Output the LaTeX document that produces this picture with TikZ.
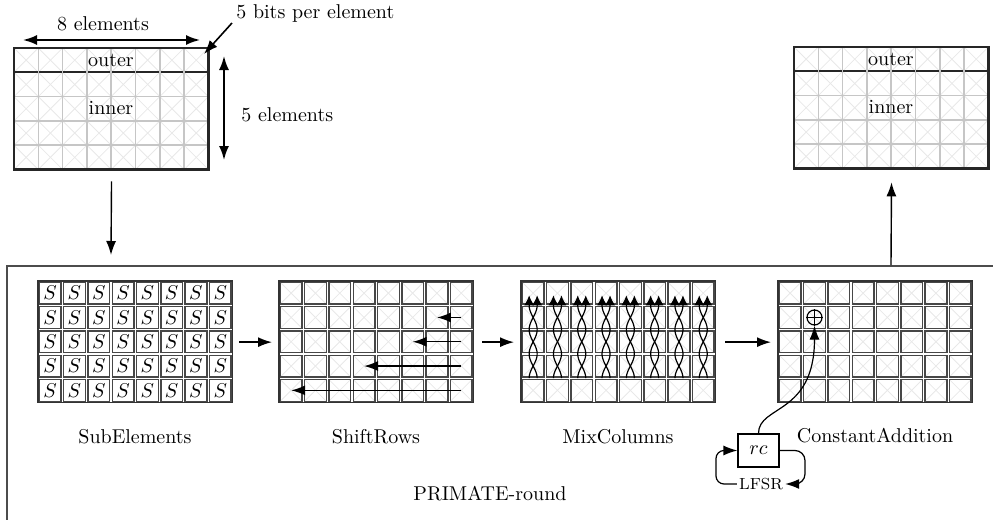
\documentclass[tikz,border=0pt]{standalone}
\usetikzlibrary{arrows.meta,calc}
\def\cs{24.3}
\newcommand\stategrid[2]{%
  \foreach \i in {0,...,7}{\foreach \j in {0,...,4}{%
    \draw[xl] (#1+\i*\cs,#2+\j*\cs) -- ++(\cs,\cs);
    \draw[xl] (#1+\i*\cs+\cs,#2+\j*\cs) -- ++(-\cs,\cs);}}
  \draw[black!85,line width=1pt] (#1,#2+\cs) -- ++(8*\cs,0);
  \foreach \i in {1,...,7} \draw[gl] (#1+\i*\cs,#2) -- ++(0,5*\cs);
  \foreach \j in {2,...,4} \draw[gl] (#1,#2+\j*\cs) -- ++(8*\cs,0);
  \draw[black!85,line width=1.2pt] (#1,#2) rectangle ++(8*\cs,5*\cs);
}
\newcommand\cellgrid[3]{% x, y, draw crosses (1/0)
  \foreach \i in {0,...,7}{\foreach \j in {0,...,4}{%
    \ifnum#3=1
    \draw[xl] (#1+\i*\cs+2,#2+\j*\cs+2) -- ++(\cs-4,\cs-4);
    \draw[xl] (#1+\i*\cs+\cs-2,#2+\j*\cs+2) -- ++(-\cs+4,\cs-4);
    \fi
    \draw[cl] (#1+\i*\cs+1.3,#2+\j*\cs+1.3) rectangle ++(\cs-2.6,\cs-2.6);}}
  \draw[black!80,line width=0.8pt] (#1,#2) rectangle ++(8*\cs,5*\cs);
}
\begin{document}
\begin{tikzpicture}[x=0.5pt,y=-0.5pt,
  gridbox/.style={draw=none,minimum width=97.2pt,minimum height=60.75pt,inner sep=0pt,anchor=north west},
  xl/.style={gray!18,line width=0.4pt},
  gl/.style={gray!45,line width=0.8pt},
  cl/.style={black!72,line width=0.7pt},
  arr/.style={-{Latex[length=7pt,width=5pt]},line width=0.7pt},
  darr/.style={{Latex[length=7pt,width=5pt]}-{Latex[length=7pt,width=5pt]},line width=0.9pt},
  mixarr/.style={-{Latex[length=5pt,width=5pt]},line width=0.6pt},
  lbl/.style={font=\normalsize,inner sep=1pt}]
\useasboundingbox (0,0) rectangle (993,520);

% frame
\draw[black!70,line width=0.8pt] (7,520) -- (7,266) -- (993,266);

% grid holder nodes
\node[gridbox] (s1) at (14,48) {};
\node[gridbox] (s2) at (794,47) {};
\node[gridbox] (g1) at (38,281) {};
\node[gridbox] (g2) at (279,281) {};
\node[gridbox] (g3) at (521,281) {};
\node[gridbox] (g4) at (778,281) {};

% top states
\stategrid{14}{48}
\stategrid{794}{47}
\node[lbl] (o1) at (111,60.5) {outer};
\node[lbl] (i1) at (111,108.5) {inner};
\node[lbl] (o2) at (891,59.5) {outer};
\node[lbl] (i2) at (891,107.5) {inner};

% annotations
\coordinate (e8a) at (23,40);
\coordinate (e8b) at (200,40);
\draw[darr] (e8a) -- (e8b);
\node[lbl] (t8) at (103,24) {8 elements};
\coordinate (e5a) at (224,56);
\coordinate (e5b) at (224,160);
\draw[darr] (e5a) -- (e5b);
\node[lbl,anchor=west] (t5) at (239,115) {5 elements};
\node[lbl,anchor=west] (tb) at (234,13) {5 bits per element};
\coordinate (bA) at (232,23);
\coordinate (bB) at (204,54);
\draw[-{Latex[length=7pt,width=5pt]},line width=0.8pt] (bA) -- (bB);

% in/out arrows
\coordinate (d1) at (111,255);
\draw[arr,shorten <=5.5pt] (s1.south) -- (d1);
\coordinate (u1) at (891,265);
\draw[arr,shorten >=6.5pt] (u1) -- (s2.south);

% bottom grids
\cellgrid{38}{281}{0}
\cellgrid{279}{281}{1}
\cellgrid{521}{281}{1}
\cellgrid{778}{281}{1}

% S boxes
\foreach \i in {0,...,7}{\foreach \j in {0,...,4}{%
  \node[inner sep=0pt] (S-\i-\j) at (38+\i*\cs+\cs/2,281+\j*\cs+\cs/2) {$S$};}}

% ShiftRows arrows
\foreach \r/\s in {1/1,2/2,3/4,4/7}{%
  \coordinate (sr\r a) at (279+7.5*\cs,281+\r*\cs+\cs/2);
  \coordinate (sr\r b) at (279+7.5*\cs-\s*\cs,281+\r*\cs+\cs/2);
  \draw[arr] (sr\r a) -- (sr\r b);}

% MixColumns
\foreach \i in {0,...,7}{%
  \pgfmathsetmacro\cx{521+(\i+0.5)*\cs}
  \draw[mixarr] plot[domain=0:3,samples=61,smooth] ({\cx+4*cos(180*\x)},{281+4*\cs-\x*\cs}) -- ++(0,-10);
  \draw[mixarr] plot[domain=0:3,samples=61,smooth] ({\cx-4*cos(180*\x)},{281+4*\cs-\x*\cs}) -- ++(0,-10);}

% connectors between stages
\draw[arr,shorten <=3pt,shorten >=3.5pt] (g1.east) -- (g2.west);
\draw[arr,shorten <=4pt,shorten >=3.5pt] (g2.east) -- (g3.west);
\draw[arr,shorten <=4.5pt,shorten >=3.5pt] (g3.east) -- (g4.west);

% ConstantAddition
\node[circle,draw,line width=0.6pt,minimum size=7.5pt,inner sep=0pt] (xor) at (814.5,317.5) {};
\draw[line width=0.6pt] (xor.north) -- (xor.south) (xor.west) -- (xor.east);
\node[draw,line width=0.6pt,minimum width=20.5pt,minimum height=16.5pt,inner sep=0pt] (rc) at (758.5,450.5) {$rc$};
\node[font=\footnotesize,inner sep=1pt] (lfsr) at (761,484) {LFSR};
\draw[arr,line width=0.6pt] (rc.north) .. controls (758.5,405) and (814.5,415) .. (xor.south);
\draw[arr,line width=0.6pt,rounded corners=5pt] (rc.east) -- (805,450.5) -- (805,484) -- (lfsr.east);
\draw[arr,line width=0.6pt,rounded corners=4pt] (lfsr.west) -- (716,484) -- (716,450.5) -- (rc.west);

% labels
\node[lbl] (l1) at (135,437) {SubElements};
\node[lbl] (l2) at (376,437) {ShiftRows};
\node[lbl] (l3) at (618,437) {MixColumns};
\node[lbl] (l4) at (875,436) {ConstantAddition};
\node[lbl] (l5) at (490,494) {PRIMATE-round};
\end{tikzpicture}
\end{document}
